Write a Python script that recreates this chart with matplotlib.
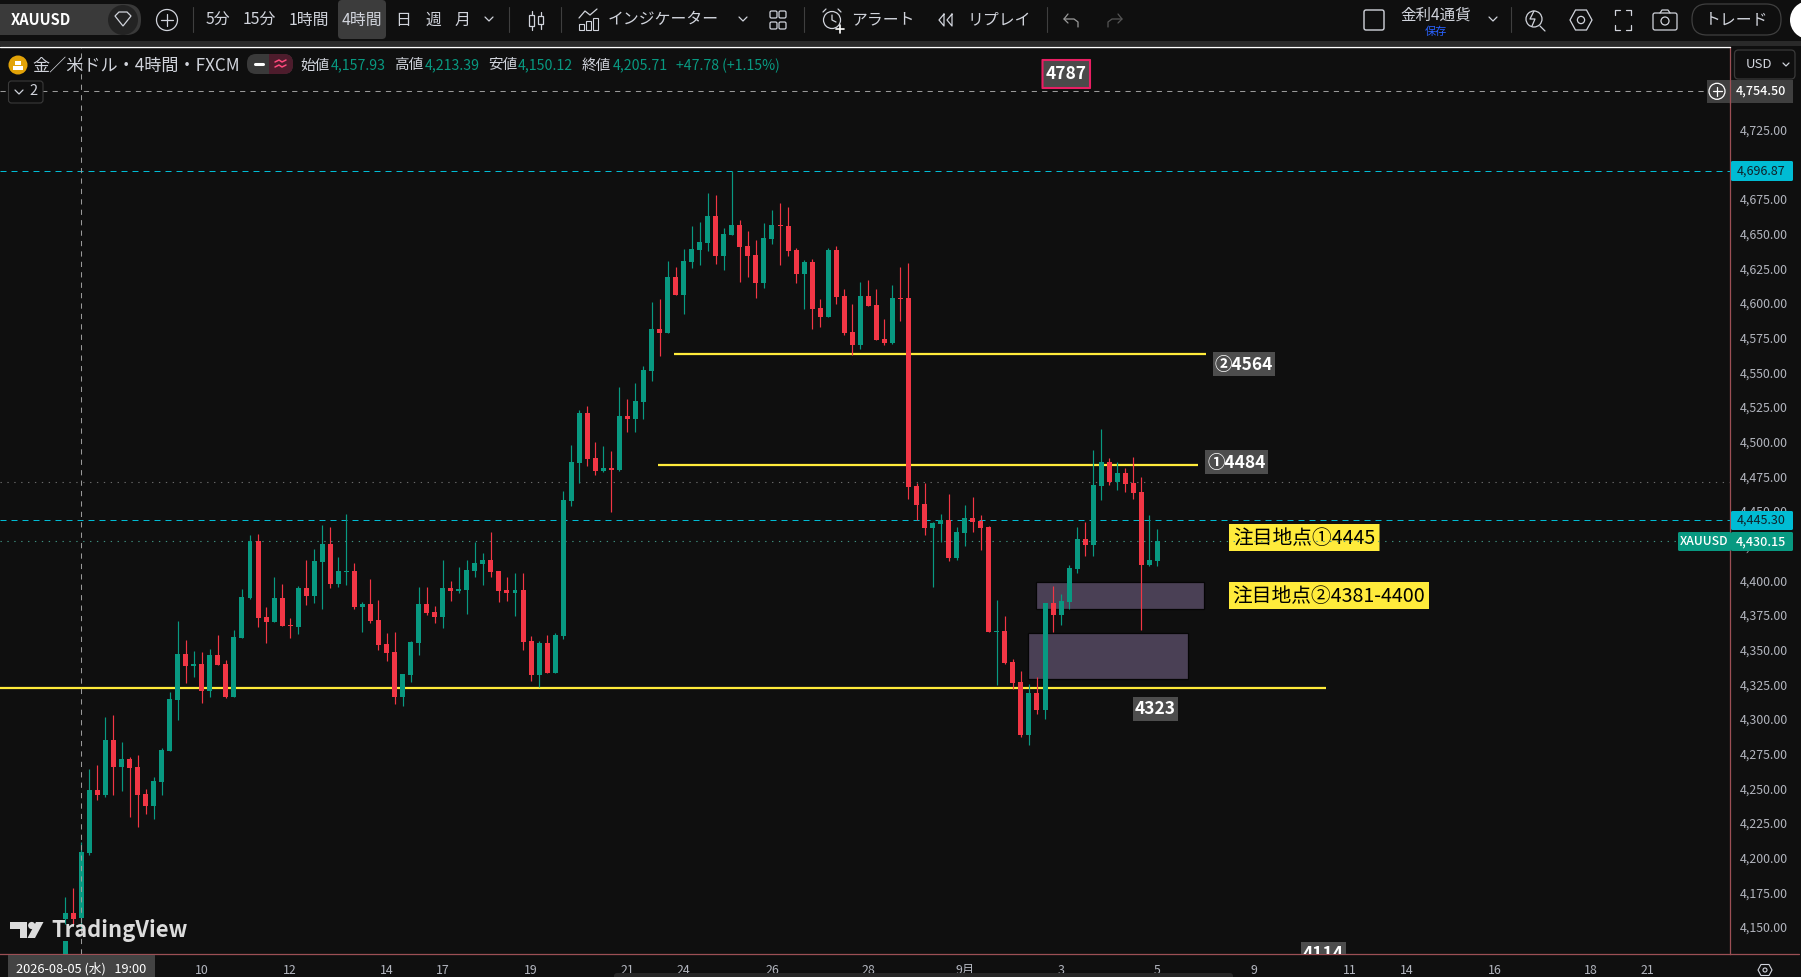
import matplotlib
matplotlib.use('Agg')
import matplotlib.pyplot as plt
import numpy as np
from matplotlib.patches import Circle, FancyBboxPatch, Polygon, Rectangle
from matplotlib.transforms import ScaledTranslation

plt.rcParams['font.family'] = ['Noto Sans CJK JP', 'DejaVu Sans']

# 4h candles
opens = [4157.5, 4161.8, 4157.93, 4205.1, 4250.5, 4246.9, 4286.6, 4267.1, 4272.9, 4267.1,
         4247.6, 4239.0, 4256.3, 4278.7, 4315.5, 4348.7, 4340.0, 4341.4, 4322.0, 4348.0,
         4341.4, 4317.6, 4360.2, 4389.1, 4430.2, 4375.4, 4371.8, 4389.1, 4369.6, 4368.1,
         4396.3, 4390.5, 4415.0, 4428.0, 4399.2, 4407.8, 4408.5, 4382.6, 4384.7, 4373.2,
         4355.9, 4350.1, 4317.6, 4333.5, 4356.6, 4384.7, 4379.0, 4375.4, 4396.3, 4394.1,
         4394.8, 4408.5, 4413.6, 4416.5, 4408.5, 4394.8, 4392.7, 4394.8, 4358.0, 4333.5,
         4356.6, 4335.0, 4361.6, 4459.1, 4486.5, 4522.6, 4490.1, 4480.7, 4482.9, 4481.4,
         4520.4, 4518.2, 4530.5, 4552.9, 4583.2, 4580.3, 4620.7, 4607.7, 4631.5, 4640.2,
         4645.2, 4664.7, 4635.8, 4651.0, 4658.2, 4643.0, 4636.6, 4616.4, 4648.1, 4658.2,
         4657.5, 4640.2, 4622.8, 4631.5, 4598.3, 4591.8, 4640.2, 4607.0, 4581.0, 4571.7,
         4607.0, 4600.5, 4576.0, 4573.1, 4605.6, 4605.6, 4469.9, 4456.9, 4439.6, 4442.5,
         4445.4, 4418.0, 4436.0, 4446.8, 4444.7, 4440.3, 4364.5, 4365.2, 4342.9, 4328.4,
         4290.2, 4320.5, 4308.2, 4385.4, 4376.8, 4386.2, 4410.0, 4431.6, 4427.3, 4469.9,
         4487.2, 4472.7, 4479.2, 4472.0, 4465.5, 4412.9, 4415.7]
highs = [4173.3, 4179.8, 4213.39, 4265.7, 4268.6, 4303.2, 4304.6, 4285.2, 4274.3, 4275.8,
         4251.3, 4259.9, 4280.8, 4321.2, 4372.5, 4358.8, 4350.8, 4350.1, 4352.3, 4362.4,
         4344.3, 4366.0, 4395.6, 4434.5, 4435.2, 4382.6, 4404.2, 4399.2, 4374.6, 4397.7,
         4416.5, 4424.4, 4441.7, 4440.3, 4418.6, 4449.7, 4414.3, 4386.2, 4402.8, 4387.6,
         4363.8, 4364.5, 4334.2, 4358.0, 4397.0, 4397.0, 4383.3, 4416.5, 4401.3, 4411.4,
         4416.5, 4429.5, 4421.5, 4436.7, 4408.5, 4404.2, 4407.1, 4407.1, 4361.6, 4358.0,
         4362.4, 4363.8, 4466.3, 4499.5, 4524.7, 4527.6, 4501.6, 4498.8, 4495.1, 4541.3,
         4532.7, 4544.2, 4556.5, 4602.6, 4604.8, 4632.2, 4627.9, 4640.9, 4657.5, 4660.4,
         4681.3, 4679.8, 4656.0, 4696.87, 4661.8, 4653.9, 4647.4, 4659.6, 4669.0, 4674.1,
         4671.2, 4641.6, 4633.0, 4633.7, 4604.8, 4641.6, 4643.0, 4612.1, 4601.2, 4617.1,
         4618.6, 4612.1, 4590.4, 4615.0, 4627.9, 4630.8, 4472.1, 4472.1, 4443.9, 4449.7,
         4464.2, 4440.3, 4456.2, 4462.0, 4449.0, 4441.0, 4387.6, 4376.1, 4345.0, 4336.4,
         4327.0, 4332.0, 4385.4, 4397.7, 4391.9, 4412.9, 4440.3, 4443.9, 4495.8, 4511.0,
         4490.1, 4487.2, 4482.8, 4490.8, 4476.3, 4448.9, 4438.8]
lows = [4154.3, 4153.8, 4150.12, 4203.6, 4243.3, 4245.5, 4246.9, 4249.8, 4231.1, 4223.8,
        4233.2, 4229.6, 4246.9, 4278.7, 4301.0, 4327.7, 4332.1, 4313.3, 4317.6, 4340.7,
        4316.9, 4317.6, 4360.2, 4388.3, 4368.1, 4356.6, 4371.8, 4368.9, 4360.2, 4363.1,
        4384.0, 4385.5, 4381.1, 4396.3, 4397.0, 4398.4, 4381.1, 4364.5, 4371.0, 4351.5,
        4343.6, 4312.6, 4311.1, 4328.5, 4348.0, 4376.8, 4371.0, 4367.4, 4386.9, 4392.7,
        4377.5, 4404.2, 4398.4, 4404.2, 4386.2, 4386.9, 4376.1, 4351.5, 4329.2, 4324.9,
        4335.0, 4335.0, 4359.5, 4455.5, 4472.1, 4484.3, 4477.8, 4480.0, 4451.1, 4480.7,
        4508.8, 4508.8, 4518.2, 4545.6, 4563.7, 4580.3, 4607.7, 4594.0, 4627.2, 4629.3,
        4639.4, 4630.1, 4625.7, 4651.0, 4617.1, 4620.7, 4605.5, 4612.8, 4644.5, 4629.3,
        4635.8, 4616.4, 4597.6, 4583.2, 4584.6, 4591.8, 4601.2, 4578.9, 4564.4, 4568.8,
        4599.8, 4575.3, 4571.7, 4572.4, 4589.0, 4460.5, 4445.4, 4434.6, 4397.1, 4429.5,
        4415.8, 4416.5, 4426.6, 4436.7, 4423.8, 4364.5, 4326.3, 4341.4, 4323.4, 4288.8,
        4283.0, 4305.3, 4301.7, 4364.5, 4369.6, 4381.1, 4407.1, 4419.3, 4419.3, 4459.8,
        4470.6, 4467.0, 4465.5, 4460.5, 4366.0, 4412.1, 4412.1]
closes = [4161.8, 4157.5, 4205.71, 4250.5, 4246.9, 4286.6, 4267.1, 4272.9, 4266.4, 4246.9,
          4239.0, 4257.0, 4279.4, 4316.2, 4348.7, 4340.0, 4341.4, 4322.0, 4348.0, 4340.7,
          4317.6, 4360.9, 4389.8, 4430.2, 4374.6, 4371.8, 4389.1, 4368.9, 4368.9, 4396.3,
          4390.5, 4415.8, 4428.0, 4399.2, 4408.5, 4408.5, 4382.6, 4384.7, 4372.5, 4355.2,
          4349.4, 4317.6, 4334.2, 4357.3, 4384.7, 4378.2, 4375.4, 4396.3, 4394.1, 4395.6,
          4409.3, 4414.3, 4416.5, 4407.8, 4394.1, 4392.7, 4394.8, 4357.3, 4333.5, 4356.6,
          4335.0, 4362.4, 4459.8, 4487.2, 4522.6, 4489.4, 4480.7, 4482.9, 4481.4, 4520.4,
          4518.2, 4531.2, 4553.6, 4583.2, 4580.3, 4620.7, 4607.7, 4632.2, 4640.9, 4645.9,
          4664.7, 4635.8, 4651.7, 4658.2, 4642.3, 4635.8, 4616.4, 4648.8, 4658.2, 4657.5,
          4639.4, 4622.8, 4631.5, 4597.6, 4591.8, 4640.2, 4606.3, 4580.3, 4571.7, 4607.0,
          4599.8, 4575.3, 4573.1, 4605.6, 4604.8, 4469.2, 4456.2, 4439.6, 4443.2, 4445.4,
          4418.0, 4436.7, 4446.8, 4443.9, 4439.6, 4364.5, 4365.2, 4342.1, 4327.7, 4290.2,
          4320.5, 4308.2, 4385.4, 4376.8, 4386.9, 4410.7, 4431.6, 4427.3, 4470.6, 4487.2,
          4472.7, 4479.2, 4471.3, 4464.8, 4412.9, 4416.5, 4430.15]
# body that shows under the logo at the very left
stub_open, stub_close = 4120.0, 4141.8

price_ticks = list(range(4150, 4726, 25))
date_ticks = [17, 28, 40, 47, 58, 70, 77, 88, 100, 112, 124, 136, 148, 160, 167, 178, 190, 197]
date_labels = ['10', '12', '14', '17', '19', '21', '24', '26', '28', '9月', '3', '5', '9', '11', '14', '16', '18', '21']

cross_bar, cross_price = 2, 4754.50
high_line, last_line, last_price, gray_dots = 4696.87, 4445.30, 4430.15, 4473.0
# start bar, end bar, price
yellow_lines = [(75.75, 142, 4565.3), (73.75, 141, 4485.2), (-9, 157, 4324.2)]
# start bar, end bar, low, high
zones = [(120.85, 141.85, 4381, 4400.5), (119.85, 139.85, 4331, 4364)]

BG = '#0f0f0f'
GREEN = '#089981'
RED = '#f23645'
CYAN = '#00bcd4'
YELLOW = '#ffeb3b'
AXIS = '#9c4f55'
TXT = '#d1d4dc'
TICK = '#b2b5be'

fig = plt.figure(figsize=(18.01, 9.77), dpi=100, facecolor=BG)
ax = fig.add_axes([0, 23/977, 1730/1801, 907/977], facecolor=BG, zorder=1)
px = fig.add_axes([0, 0, 1, 1], zorder=2)
px.set_xlim(0, 1801)
px.set_ylim(977, 0)
px.set_autoscale_on(False)
px.axis('off')
px.patch.set_alpha(0)


def box(x0, y0, x1, y1, fc, ec='none', lw=0, r=0.01, a=None, z=2):
    p = FancyBboxPatch((x0, y0), x1-x0, y1-y0, boxstyle=f'round,pad=0,rounding_size={r}', fc=fc, ec=ec, lw=lw,
                       transform=px.transData, zorder=z)
    (a or px).add_patch(p)
    return p


def label(x, y, s, size, color=TXT, ha='center', weight='normal', a=None, z=3, clip=False):
    return (a or px).text(x, y, s, fontsize=size, color=color, ha=ha, va='center', fontweight=weight,
                          transform=px.transData, zorder=z, clip_on=clip)


def stroke(xs, ys, color=TXT, lw=0.9):
    px.plot(xs, ys, color=color, lw=lw, solid_capstyle='round', zorder=3)


def ring(x, y, r, fc='none', ec=TXT, lw=0.9):
    px.add_patch(Circle((x, y), r, fc=fc, ec=ec, lw=lw, zorder=3))


# chart pane
ax.set_xlim(-8.133, 207.3)
ax.set_ylim(4132.3, 4786.6)
for s in ['top', 'left']:
    ax.spines[s].set_visible(False)
for s in ['right', 'bottom']:
    ax.spines[s].set_color(AXIS)
    ax.spines[s].set_linewidth(0.9)
ax.yaxis.tick_right()
ax.set_yticks(price_ticks)
ax.set_yticklabels([f'{p:,.2f}' for p in price_ticks], fontsize=8.9, color=TICK)
ax.set_xticks(date_ticks)
ax.set_xticklabels(date_labels, fontsize=8.9, color=TICK)
ax.tick_params(axis='y', length=0, pad=7)
ax.tick_params(axis='x', length=0, pad=7.5)
# price labels sit a bit above their level
up = ScaledTranslation(0, 2.6/100, fig.dpi_scale_trans)
for t in ax.get_yticklabels():
    t.set_transform(t.get_transform() + up)

for x0, x1, lo, hi in zones:
    ax.add_patch(Rectangle((x0, lo), x1-x0, hi-lo, fc='#4a4055', ec='#050505', lw=0.9, zorder=1.5))
for x0, x1, p in yellow_lines:
    ax.plot([x0, x1], [p, p], color=YELLOW, lw=1.6, zorder=2, solid_capstyle='butt')

ax.axhline(cross_price, color='#9a9a9a', lw=0.75, ls=(0, (5, 5)), zorder=1)
ax.axvline(cross_bar, color='#9a9a9a', lw=0.75, ls=(0, (5, 5)), zorder=4)
ax.axhline(high_line, color=CYAN, lw=0.72, ls=(0, (6, 5)), zorder=1)
ax.axhline(last_line, color=CYAN, lw=0.72, ls=(0, (6, 5)), zorder=1)
ax.axhline(gray_dots, color='#6a6a6a', lw=0.8, ls=(0, (1.2, 5)), zorder=1)
ax.axhline(last_price, color='#3f8f80', lw=0.8, ls=(0, (1.2, 5)), zorder=1)

# candles
x = np.arange(len(opens))
o, h, l, c = map(np.array, (opens, highs, lows, closes))
cols = [GREEN if b >= a else RED for a, b in zip(o, c)]
ax.vlines(x, l, h, colors=cols, lw=0.85, zorder=3)
ax.bar(x, np.maximum(np.abs(c-o), 0.8), bottom=np.minimum(o, c), width=0.62, color=cols, lw=0, zorder=3.1)
ax.bar(x[0], stub_close-stub_open, bottom=stub_open, width=0.62, color=GREEN, lw=0, zorder=3.1)

# drawings on the chart
box(1042.5, 60, 1090, 88, '#4a4a4a', ec='#e91e63', lw=1.5, a=ax, z=5)
label(1066, 74, '4787', 12.5, 'white', weight='bold', a=ax, z=6)
box(1205, 450, 1268, 474, '#4d4d4d', a=ax, z=5)
label(1236.5, 463.5, '①4484', 12.5, 'white', weight='bold', a=ax, z=6)
box(1213, 352, 1275, 376, '#4d4d4d', a=ax, z=5)
label(1244, 365.5, '②4564', 12.5, 'white', weight='bold', a=ax, z=6)
box(1133, 697, 1178, 721, '#4d4d4d', a=ax, z=5)
label(1155.5, 709.5, '4323', 12.5, 'white', weight='bold', a=ax, z=6)
box(1301, 942, 1346, 966, '#4d4d4d', a=ax, z=5).set_clip_on(True)
label(1323.5, 954, '4114', 12.5, 'white', weight='bold', a=ax, z=6, clip=True)
box(1229, 524, 1379.5, 551, YELLOW, a=ax, z=0.5)
label(1304, 538.5, '注目地点①4445', 14.2, 'black', a=ax, z=0.6)
box(1229, 582, 1429, 609, YELLOW, a=ax, z=0.5)
label(1329, 596.5, '注目地点②4381-4400', 14.2, 'black', a=ax, z=0.6)

# TradingView logo
LOGO = '#dcdcdc'
px.add_patch(Polygon([(10, 922), (27, 922), (27, 938), (20, 938), (20, 929), (10, 929)], fc=LOGO, ec='none', zorder=3))
px.add_patch(Circle((31.7, 925.5), 3.6, fc=LOGO, ec='none', zorder=3))
px.add_patch(Polygon([(36, 922), (43.5, 922), (35, 938), (27.5, 938)], fc=LOGO, ec='none', zorder=3))
label(51, 930, 'TradingView', 15.8, LOGO, ha='left', weight='bold')

# toolbar
px.add_patch(Rectangle((0, 0), 1801, 41, fc=BG, ec='none', zorder=1))
px.add_patch(Rectangle((0, 41), 1801, 5, fc='#2a2a2a', ec='none', zorder=1))
stroke([0, 1730], [46.7, 46.7], 'white', 1.0)

box(-15, 4, 141, 35, '#3a3a3a', r=15)
ring(123, 20, 15, fc='#232323', ec='none')
px.add_patch(Polygon([(115, 16), (119, 12), (127, 12), (131, 16), (123, 26)], fc='none', ec=TXT, lw=0.9, zorder=4))
label(11, 20, 'XAUUSD', 10.6, 'white', ha='left', weight='bold')
ring(167, 20, 10.5)
stroke([161, 173], [20, 20])
stroke([167, 167], [14, 26])

box(338, 0, 386, 39, '#3c3c3c', r=4)
for xp in [193, 508.6, 561, 804, 1046.5, 1511]:
    stroke([xp, xp], [7, 32], '#3f3f3f', 0.8)
for xp, s in [(217.5, '5分'), (259.5, '15分'), (309, '1時間'), (362, '4時間'), (403.5, '日'), (433, '週'), (462, '月'),
              (663, 'インジケーター'), (883, 'アラート'), (999, 'リプレイ')]:
    label(xp, 20, s, 11.4)
for xp in [489, 743, 1493]:
    stroke([xp-4, xp, xp+4], [17, 21, 17])

# candle icon
for xp, y0, y1, b0, b1 in [(531.5, 11, 30, 15, 26), (540.5, 12, 29, 16, 24)]:
    stroke([xp, xp], [y0, b0])
    stroke([xp, xp], [b1, y1])
    px.add_patch(Rectangle((xp-2.5, b0), 5, b1-b0, fc='none', ec=TXT, lw=0.9, zorder=3))
# indicators icon
for xp, top in [(581, 24), (588, 21), (595, 18)]:
    px.add_patch(Rectangle((xp-2.5, top), 5, 30-top, fc='none', ec=TXT, lw=0.8, zorder=3))
stroke([579, 585, 590, 597], [18, 11, 15, 9])
# layout icon
for xp in [773.5, 782.5]:
    for yp in [14.5, 25.5]:
        box(xp-3.5, yp-3.5, xp+3.5, yp+3.5, 'none', ec=TXT, lw=0.9, r=1.5)
# alarm icon
ring(832, 20, 8.5)
stroke([832, 832, 836], [15, 20, 22])
stroke([836, 844], [29, 29], 'white', 1.2)
stroke([840, 840], [25, 33], 'white', 1.2)
stroke([823, 826], [12, 9])
stroke([838, 841], [9, 12])
# replay icon
stroke([944, 939, 944, 944], [14, 20, 26, 14])
stroke([952, 947, 952, 952], [14, 20, 26, 14])
# undo and redo
stroke([1068, 1064, 1068], [14, 19, 23], '#9a9a9a')
stroke([1064, 1074, 1078, 1078], [19, 19, 22, 27], '#9a9a9a')
stroke([1118, 1122, 1118], [14, 19, 23], '#555555')
stroke([1122, 1112, 1108, 1108], [19, 19, 22, 27], '#555555')
# watchlist box
box(1364, 10, 1384, 30, 'none', ec=TXT, lw=1.0, r=2)
label(1436, 15, '金利4通貨', 11.2)
label(1436, 32, '保存', 8, '#2962ff')
# right hand icons
ring(1534, 19, 8)
stroke([1534, 1530, 1535, 1532], [11, 19, 19, 26])
stroke([1540, 1545], [26, 31])
px.add_patch(Polygon([(1570, 20), (1575.5, 10), (1586.5, 10), (1592, 20), (1586.5, 30), (1575.5, 30)], fc='none', ec=TXT, lw=0.9, zorder=3))
ring(1581, 20, 3.6)
for xs, ys in [([1615, 1615, 1620], [15, 10, 10]), ([1626, 1631, 1631], [10, 10, 15]),
               ([1615, 1615, 1620], [25, 30, 30]), ([1626, 1631, 1631], [30, 30, 25])]:
    stroke(xs, ys)
box(1653, 13, 1677, 30, 'none', ec=TXT, lw=0.9, r=2)
stroke([1660, 1662, 1668, 1670], [13, 10, 10, 13])
ring(1665, 21, 4)
box(1692, 4, 1781, 35, 'none', ec='#3f3f3f', lw=0.9, r=15)
label(1736.5, 19.5, 'トレード', 11.4)
ring(1809, 20, 19, fc='white', ec='none')

# legend row
ring(18, 65, 9.5, fc='#e2a308', ec='none')
px.add_patch(Rectangle((13, 66), 10, 4, fc='white', ec='none', zorder=4))
px.add_patch(Rectangle((15, 61), 6, 4, fc='white', ec='none', zorder=4))
label(32, 66, '金／米ドル・4時間・FXCM', 12.3, ha='left')
box(247, 54, 293, 74, '#3a3a3a', r=9)
box(269, 54, 293, 74, '#4d1c2c', r=9)
px.add_patch(Rectangle((269, 54), 8, 20, fc='#4d1c2c', ec='none', zorder=2))
stroke([255, 263], [64, 64], 'white', 2.2)
stroke([275, 279, 282, 286], [62, 60, 62, 60], '#ff4a7d', 1.1)
stroke([275, 279, 282, 286], [67, 65, 67, 65], '#ff4a7d', 1.1)
for xp, s in [(300, '始値'), (394, '高値'), (488.5, '安値'), (582, '終値')]:
    label(xp, 65.5, s, 10.5, ha='left')
for xp, s in [(331, '4,157.93'), (425, '4,213.39'), (518, '4,150.12'), (612.5, '4,205.71'), (676, '+47.78 (+1.15%)')]:
    label(xp, 65.5, s, 10.2, GREEN, ha='left')
box(8.5, 81, 43, 103, BG, ec='#3a3a3a', lw=0.8, r=3)
stroke([15, 19, 23], [90, 94, 90])
label(33, 91, '2', 10.5)

# price scale labels
box(1734.5, 50, 1795, 79, BG, ec='#3a3a3a', lw=0.9, r=4)
label(1746, 64, 'USD', 9.5, ha='left')
stroke([1783, 1786, 1789], [63, 66, 63])
px.add_patch(Rectangle((1707, 80), 86, 23, fc='#3f3f3f', ec='none', zorder=2))
ring(1717, 91.3, 8, ec='white')
stroke([1712.5, 1721.5], [91.3, 91.3], 'white')
stroke([1717, 1717], [87, 96], 'white')
stroke([1730, 1730], [80, 103], AXIS, 0.9)
label(1761, 91, f'{cross_price:,.2f}', 9, 'white', weight='medium')
box(1731, 161, 1793, 181, CYAN, r=1.5)
label(1761, 171, f'{high_line:,.2f}', 9, '#10222a')
box(1731, 511, 1793, 530, CYAN, r=1.5)
label(1761, 520.5, f'{last_line:,.2f}', 9, '#10222a')
box(1731, 532, 1793, 551, GREEN, r=1.5)
label(1761, 541.5, f'{last_price:,.2f}', 9, 'white', weight='medium')
box(1678, 532, 1731, 551, GREEN, r=1.5)
label(1704.5, 541.5, 'XAUUSD', 8.8, 'white', weight='medium')

# time scale bits
stroke([1730, 1799], [954.3, 954.3], AXIS, 0.9)
px.add_patch(Rectangle((8, 954.5), 147, 22.5, fc='#434343', ec='none', zorder=2))
label(81.5, 969, '2026-08-05 (水)   19:00', 9.2, 'white')
box(614, 973, 1233, 980, '#262626', r=3)
px.add_patch(Polygon([(1758, 970), (1761, 964.5), (1769, 964.5), (1772, 970), (1769, 975.5), (1761, 975.5)], fc='none', ec=TXT, lw=0.8, zorder=3))
ring(1765, 970, 2, lw=0.8)

fig.savefig('out.png', dpi=100, facecolor=BG)
